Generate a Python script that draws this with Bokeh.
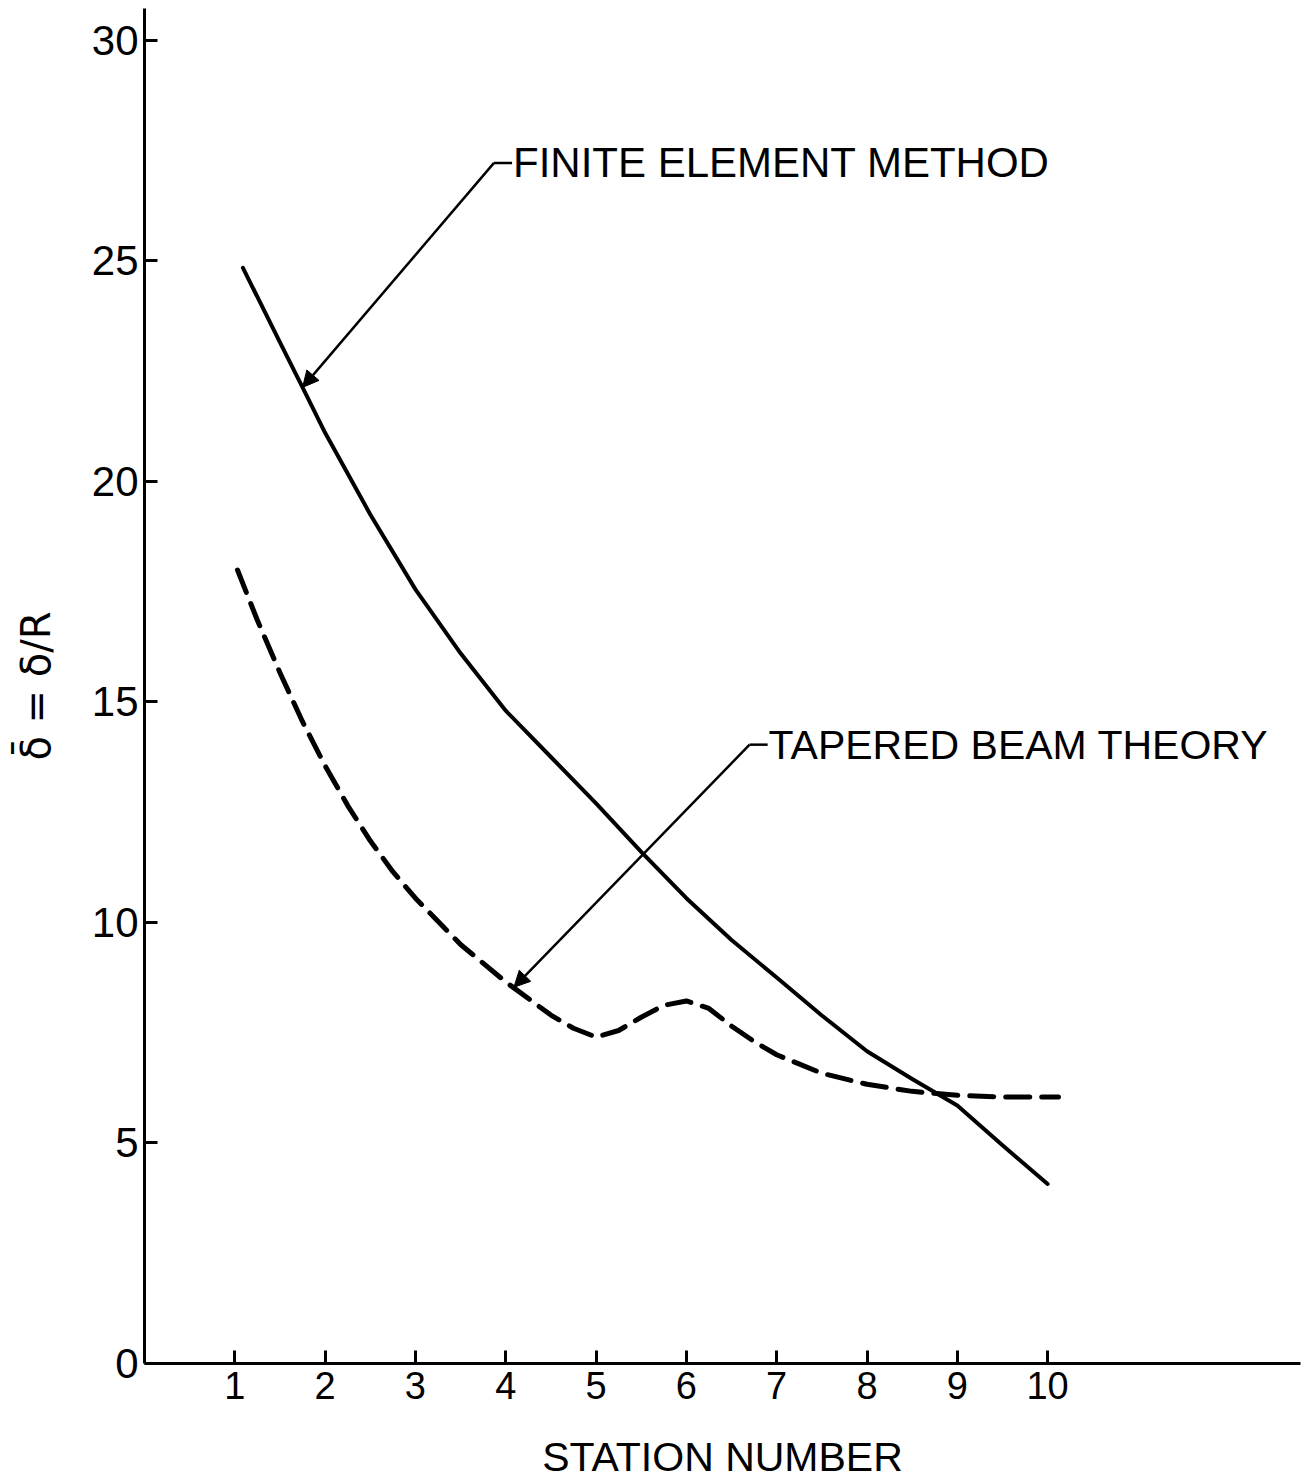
from bokeh.plotting import figure
from bokeh.models import Range1d, FixedTicker, Label, Arrow, NormalHead
from bokeh.embed import file_html
from bokeh.resources import INLINE

# ---- data ----
fem_station = [1.09, 1.5, 1.75, 2.0, 2.5, 3.0, 3.5, 4.0, 4.5, 5.0, 5.5, 6.0, 6.5,
               7.0, 7.5, 8.0, 8.5, 9.0, 9.5, 10.0]
fem_value = [24.84, 23.15, 22.13, 21.1, 19.25, 17.55, 16.1, 14.8, 13.75, 12.7, 11.6,
             10.55, 9.6, 8.75, 7.89, 7.08, 6.45, 5.85, 4.95, 4.07]

tbt_station = [1.03, 1.25, 1.5, 1.75, 2.0, 2.25, 2.5, 2.75, 3.0, 3.5, 4.0, 4.5, 4.75,
               5.0, 5.25, 5.5, 5.75, 6.0, 6.25, 6.5, 6.75, 7.0, 7.5, 8.0, 8.5, 9.0,
               9.5, 10.12]
tbt_value = [17.99, 16.85, 15.66, 14.55, 13.55, 12.65, 11.85, 11.15, 10.55, 9.5, 8.65,
             7.9, 7.6, 7.4, 7.55, 7.85, 8.12, 8.22, 8.05, 7.65, 7.3, 7.0, 6.58, 6.33,
             6.17, 6.08, 6.04, 6.04]

x_ticks = [1, 2, 3, 4, 5, 6, 7, 8, 9, 10]
y_ticks = [0, 5, 10, 15, 20, 25, 30]

FONT = "Liberation Sans"

p = figure(width=1305, height=1483, output_backend="svg", toolbar_location=None,
           x_range=Range1d(0, 12.8), y_range=Range1d(0, 30.72),
           min_border_left=144, min_border_right=5, min_border_top=8,
           min_border_bottom=120)
p.outline_line_color = None
p.xgrid.grid_line_color = None
p.ygrid.grid_line_color = None
p.background_fill_color = "white"
p.border_fill_color = "white"

for ax in (p.xaxis[0], p.yaxis[0]):
    ax.axis_line_width = 3
    ax.axis_line_color = "black"
    ax.major_tick_line_width = 3
    ax.major_tick_line_color = "black"
    ax.major_tick_in = 13
    ax.major_tick_out = 0
    ax.minor_tick_line_color = None
    ax.major_label_text_font = FONT
    ax.major_label_text_color = "black"
    ax.axis_label_text_font = FONT
    ax.axis_label_text_font_style = "normal"
    ax.axis_label_text_color = "black"

p.xaxis.ticker = FixedTicker(ticks=x_ticks)
p.yaxis.ticker = FixedTicker(ticks=y_ticks)
p.xaxis.major_label_text_font_size = "38px"
p.yaxis.major_label_text_font_size = "42px"
p.xaxis.major_label_standoff = 8
p.yaxis.major_label_standoff = 6
p.xaxis.axis_label = "STATION NUMBER"
p.xaxis.axis_label_text_font_size = "41px"
p.xaxis.axis_label_standoff = 32
p.yaxis.axis_label = "δ̄ = δ/R"
p.yaxis.axis_label_text_font = "DejaVu Sans"
p.yaxis.axis_label_text_font_size = "40px"
p.yaxis.axis_label_standoff = 30

# curves
p.line(fem_station, fem_value, line_color="black", line_width=4,
       line_join="round", line_cap="round")
p.line(tbt_station, tbt_value, line_color="black", line_width=5, line_dash="24 12",
       line_join="round", line_cap="round")

# annotations: leader lines with arrowheads
fem_corner = (3.87, 27.22)
fem_tip = (1.75, 22.13)
tbt_corner = (6.70, 14.03)
tbt_tip = (4.09, 8.53)

for corner, tip in ((fem_corner, fem_tip), (tbt_corner, tbt_tip)):
    p.add_layout(Arrow(end=NormalHead(size=16, fill_color="black", line_color="black"),
                       x_start=corner[0], y_start=corner[1], x_end=tip[0], y_end=tip[1],
                       line_width=2.5, line_color="black"))
    p.add_layout(Arrow(end=None, x_start=corner[0], y_start=corner[1],
                       x_end=corner[0] + 0.2, y_end=corner[1],
                       line_width=2.5, line_color="black"))

p.add_layout(Label(x=fem_corner[0] + 0.21, y=fem_corner[1], text="FINITE ELEMENT METHOD",
                   text_font=FONT, text_font_size="42px", text_baseline="middle",
                   text_align="left", text_color="black"))
p.add_layout(Label(x=tbt_corner[0] + 0.21, y=tbt_corner[1], text="TAPERED BEAM THEORY",
                   text_font=FONT, text_font_size="41px", text_baseline="middle",
                   text_align="left", text_color="black"))

open("out.html", "w").write(file_html(p, INLINE))
